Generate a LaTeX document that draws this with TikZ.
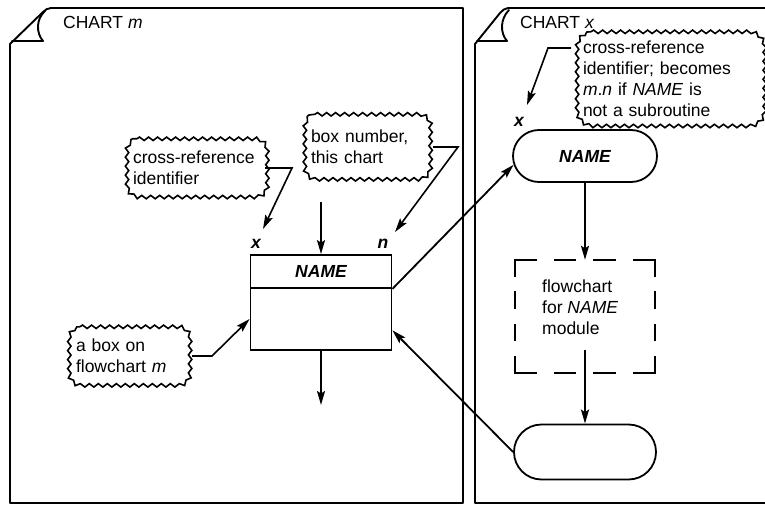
\documentclass[tikz,border=0pt]{standalone}
\usepackage{fontspec}
\setmainfont{Liberation Sans}
\usetikzlibrary{arrows.meta,decorations.pathmorphing,shapes.misc}
\newcommand{\mytxt}{\fontsize{17.5}{21}\selectfont}
\tikzset{
  pageline/.style={line width=1.9pt, line join=round, line cap=round},
  tipend/.style={-{Stealth[length=14pt,width=8pt,inset=2.5pt]}},
  conn/.style={line width=1.8pt, tipend},
  lead/.style={line width=1.6pt, tipend},
  cloudtext/.style={align=left, inner xsep=8pt, inner ysep=0pt, font=\mytxt},
  cloudline/.style={line width=1.6pt, decorate,
    decoration={snake, segment length=9pt, amplitude=1.7pt}},
  boxpart/.style={draw, line width=1.8pt, minimum width=141pt, inner sep=0pt},
  term/.style={rounded rectangle, draw, line width=1.8pt, inner sep=0pt},
  dsh/.style={line width=1.8pt, line cap=rect},
  lbl/.style={inner sep=0pt, font=\mytxt\bfseries\itshape},
  plain/.style={inner sep=0pt, font=\mytxt},
}
\newcommand{\cloudaround}[2]{%
  \draw[cloudline] ([xshift=#2]#1.north west) -- ([xshift=-#2]#1.north east)
    arc[start angle=90,end angle=0,radius=#2] -- ([yshift=#2]#1.south east)
    arc[start angle=0,end angle=-90,radius=#2] -- ([xshift=#2]#1.south west)
    arc[start angle=270,end angle=180,radius=#2] -- ([yshift=-#2]#1.north west)
    arc[start angle=180,end angle=90,radius=#2] -- cycle;}
\begin{document}
\begin{tikzpicture}[x=1pt,y=-1pt]
\useasboundingbox (0,0) rectangle (765,505);
% left page
\draw[pageline] (463,503) -- (10,503) -- (10,44) -- (43,12) to[out=40,in=180] (51,8) -- (463,8) -- cycle;
\draw[pageline] (12,41) -- (43,41) .. controls (36,33) and (36,19) .. (45,11);
% right page
\draw[pageline] (765,503) -- (475,503) -- (475,44) -- (500,13) to[out=40,in=180] (508,8) -- (765,8);
\draw[pageline] (477,41) -- (507,41) .. controls (500,33) and (500,19) .. (509,10);
% titles
\node[plain, anchor=west] (chm) at (63,22) {CHART \textit{m}};
\node[plain, anchor=west] (chx) at (520,22) {CHART \textit{x}};
% clouds
\node[cloudtext, text width=124pt, minimum height=58pt] (cr1) at (195,168) {cross-reference\\identifier};
\node[cloudtext, text width=109pt, minimum height=65pt] (bn) at (365.5,147) {box number,\\this chart};
\node[cloudtext, text width=104pt, minimum height=58pt] (ab) at (128,356) {a box on\\flowchart \textit{m}};
\node[cloudtext, text width=171pt, minimum height=94pt] (crx) at (668.5,79) {cross-reference\\identifier; becomes\\\textit{m}.\textit{n} if \textit{NAME} is\\not a subroutine};
\cloudaround{cr1}{12pt}
\cloudaround{bn}{12pt}
\cloudaround{ab}{12pt}
\cloudaround{crx}{16pt}
% box on chart m
\node[boxpart, minimum height=33pt, font=\mytxt\bfseries\itshape] (hdr) at (321,271.5) {NAME};
\node[boxpart, minimum height=62pt] (body) at (321,319) {};
\node[lbl] (xl) at (256,244) {x};
\node[lbl] (nl) at (383,244) {n};
\node[lbl] (xr) at (519,122) {x};
% chart x
\node[term, minimum width=144pt, minimum height=52pt, font=\mytxt\bfseries\itshape] (t1) at (585,156) {NAME};
\node[term, minimum width=142pt, minimum height=55pt] (t2) at (585,452) {};
\node[minimum width=140pt, minimum height=113pt, inner sep=0pt] (db) at (585,316.5) {};
\node[plain, anchor=west, align=left] (fc) at (542,307) {flowchart\\for \textit{NAME}\\module};
\draw[dsh, dash pattern=on 21pt off 18.67pt] (db.north west) -- (db.north east);
\draw[dsh, dash pattern=on 21pt off 18.67pt] (db.south west) -- (db.south east);
\draw[dsh, dash pattern=on 16pt off 16.33pt] (db.north west) -- (db.south west);
\draw[dsh, dash pattern=on 16pt off 16.33pt] (db.north east) -- (db.south east);
% connectors
\coordinate (in1) at (321,202);
\coordinate (out1) at (321,405);
\draw[conn] (in1) -- (hdr.north);
\draw[conn] (body.south) -- (out1);
\draw[conn] (hdr.south east) -- (t1.187);
\draw[conn] (t2.west) -- (body.-9);
\draw[conn] (t1.south) -- (db.north);
\coordinate (din) at (585,350);
\draw[conn] (din) -- (t2.north);
% leaders
\coordinate (xtip) at (263,229);
\draw[lead] (cr1.east) -- (292,168) -- (xtip);
\coordinate (ntip) at (395,232);
\draw[lead] ([xshift=5pt]bn.east) -- (458,147) -- (ntip);
\draw[lead] ([xshift=4pt]ab.east) -- (212,356) -- (body.west);
\coordinate (crxs) at (571,48);
\coordinate (xrtip) at (527,105);
\draw[lead] (crxs) -- (548,48) -- (xrtip);
\end{tikzpicture}
\end{document}
